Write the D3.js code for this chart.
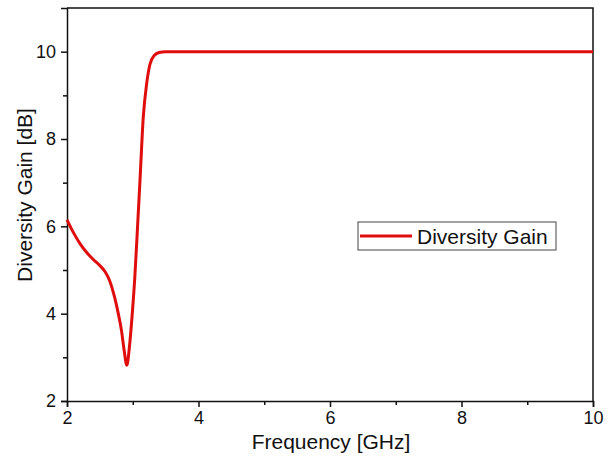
<!DOCTYPE html>
<html>
<head>
<meta charset="utf-8">
<script src="https://cdn.jsdelivr.net/npm/d3@7"></script>
<style>
  body { margin: 0; background: #fff; }
  text { font-family: "Liberation Sans", Arial, sans-serif; fill: #111; }
</style>
</head>
<body>
<svg id="chart" width="609" height="459"></svg>
<script>
// frequency (GHz) and diversity gain (dB)
var freq = [2.0, 2.1, 2.2, 2.3, 2.4, 2.5, 2.58, 2.65, 2.72, 2.78, 2.83, 2.87, 2.91, 2.95, 2.99, 3.03, 3.07, 3.11, 3.16, 3.21, 3.26, 3.33, 3.4, 3.5, 4, 6, 8, 10];
var gain = [6.15, 5.85, 5.6, 5.4, 5.24, 5.1, 4.96, 4.75, 4.4, 4.0, 3.6, 3.15, 2.82, 3.25, 3.95, 4.8, 5.9, 7.05, 8.5, 9.25, 9.7, 9.92, 9.98, 10.0, 10.0, 10.0, 10.0, 10.0];
var xTicks = [2, 4, 6, 8, 10];
var yTicks = [2, 4, 6, 8, 10];
var minorTicks = [3, 5, 7, 9];

function drawChart() {
    var svg = d3.select("#chart");
    var mLeft = 67, mRight = 593, mTop = 8, mBottom = 401;

    var x = d3.scaleLinear().domain([2, 10]).range([mLeft, mRight]);
    var y = d3.scaleLinear().domain([2, 11]).range([mBottom, mTop]);

    // frame (top and right)
    svg.append("path")
        .attr("d", "M" + mLeft + "," + mTop + "H" + mRight + "V" + mBottom)
        .style("fill", "none").style("stroke", "#111").style("stroke-width", "1.5px");

    // minor ticks
    svg.append("g").attr("class", "minor").attr("transform", "translate(0," + mBottom + ")")
        .call(d3.axisBottom(x).tickValues(minorTicks).tickSize(4).tickFormat(""));
    svg.append("g").attr("class", "minor").attr("transform", "translate(" + mLeft + ",0)")
        .call(d3.axisLeft(y).tickValues(minorTicks).tickSize(4).tickFormat(""));
    svg.selectAll(".minor .domain").remove();

    // major axes
    svg.append("g").attr("transform", "translate(0," + mBottom + ")")
        .call(d3.axisBottom(x).tickValues(xTicks).tickSize(6).tickPadding(4).tickFormat(d3.format("d")));
    svg.append("g").attr("transform", "translate(" + mLeft + ",0)")
        .call(d3.axisLeft(y).tickValues(yTicks).tickSize(6).tickPadding(5).tickFormat(d3.format("d")));

    svg.selectAll(".domain").style("stroke", "#111").style("stroke-width", "1.5px");
    svg.selectAll(".tick line").style("stroke", "#111").style("stroke-width", "1.5px");
    svg.selectAll(".tick text").style("font-size", "18px").style("fill", "#111");

    // curve
    var pts = freq.map(function(f, i) { return [f, gain[i]]; });
    svg.append("path")
        .datum(pts)
        .attr("d", d3.line()
            .x(function(d) { return x(d[0]); })
            .y(function(d) { return y(d[1]); })
            .curve(d3.curveMonotoneX))
        .style("fill", "none").style("stroke", "#e00d0d").style("stroke-width", "3px");

    // axis titles
    svg.append("text")
        .attr("x", 331).attr("y", 449)
        .attr("text-anchor", "middle").style("font-size", "21px")
        .text("Frequency [GHz]");
    svg.append("text")
        .attr("transform", "translate(32,195) rotate(-90)")
        .attr("text-anchor", "middle").style("font-size", "21px")
        .text("Diversity Gain [dB]");

    // legend
    var lg = svg.append("g");
    lg.append("rect").attr("x", 358).attr("y", 222).attr("width", 198).attr("height", 28)
        .style("fill", "#fff").style("stroke", "#444").style("stroke-width", "1px");
    lg.append("line").attr("x1", 360).attr("x2", 412).attr("y1", 236).attr("y2", 236)
        .style("stroke", "#e00d0d").style("stroke-width", "3px");
    lg.append("text").attr("x", 417).attr("y", 244).style("font-size", "21px").text("Diversity Gain");
}

drawChart();
</script>
</body>
</html>
